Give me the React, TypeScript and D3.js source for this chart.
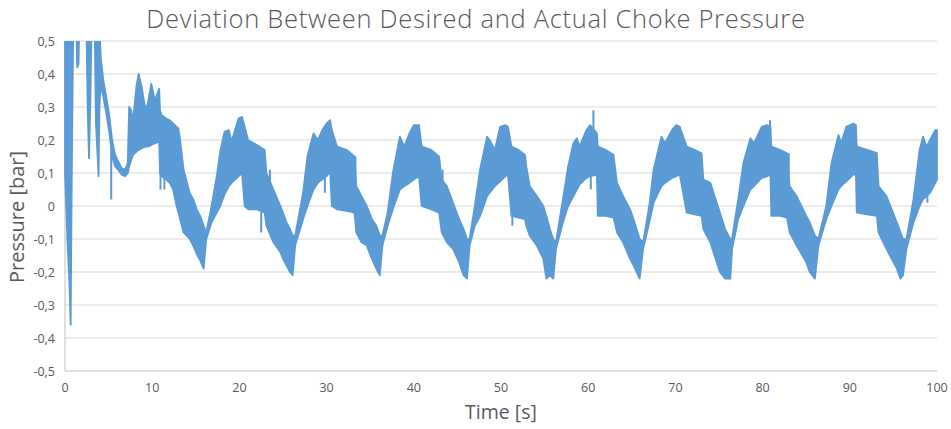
import React from 'react';
import * as d3 from 'd3';

// time [s], upper and lower edge of the oscillating pressure band [bar]
const timeS = [
  0, 0.3, 0.5, 0.65, 0.75, 0.85, 0.95, 1.3, 1.4, 1.55, 1.65, 2.45, 2.6, 2.75, 2.9, 3.05, 3.4, 3.55, 3.85, 3.95,
  4.1, 4.4, 4.8, 5.1, 5.4, 5.75, 6.1, 6.5, 6.9, 7.2, 7.35, 7.6, 7.8, 8.2, 8.45, 8.8, 9.2, 9.5, 9.9, 10.3,
  10.8, 10.9, 11.1, 11.6, 12.0, 12.4, 12.8, 13.0, 13.2, 13.6, 14.3, 14.7, 15.1, 15.5, 15.9, 16.2, 16.8, 17.4, 17.8, 18.3,
  18.8, 19.1, 19.5, 19.9, 20.3, 20.6, 21.0, 22.0, 22.9, 23.1, 23.9, 24.7, 25.0, 25.4, 25.8, 26.1, 26.4,
  27.3, 27.8, 28.5, 29.0, 29.5, 30.0, 30.4, 30.6, 31.2, 32.3, 33.2, 33.4, 34.0, 34.6, 35.2, 35.7, 36.1, 36.4,
  37.0, 37.6, 38.4, 38.9, 39.5, 40.0, 40.6, 40.9, 42.0, 42.9, 43.2, 43.8, 44.5, 45.2, 45.7, 46.1, 46.4,
  47.0, 47.6, 48.4, 48.7, 49.3, 49.9, 50.5, 50.8, 51.2, 52.0, 52.75, 52.9, 53.3, 54.1, 54.85, 55.2, 55.6, 56.0, 56.3,
  57.1, 57.7, 58.3, 58.7, 59.0, 59.8, 60.2, 61.0, 61.1, 62.0, 62.9, 63.3, 64.0, 64.8, 65.2, 65.9, 66.3,
  67.0, 67.5, 68.4, 68.8, 69.6, 70.1, 70.5, 71.3, 72.2, 73.0, 73.2, 74.0, 75.1, 75.7, 76.3, 76.5,
  77.2, 77.8, 78.6, 79.0, 79.9, 80.5, 80.9, 81.0, 82.0, 82.8, 83.1, 83.9, 85.0, 85.4, 86.0, 86.4,
  87.3, 87.9, 88.7, 89.0, 89.6, 90.4, 90.7, 90.8, 92.0, 93.1, 93.3, 94.2, 95.4, 95.8, 96.1, 96.5,
  97.3, 98.0, 98.4, 98.8, 99.2, 99.8, 100,
];
const upperBar = [
  0.6, 0.6, 0.6, 0.6, 0.6, 0.6, 0.6, 0.6, 0.6, 0.6, 0.6, 0.6, 0.6, 0.6, 0.6, 0.6, 0.6, 0.6, 0.6, 0.55,
  0.45, 0.38, 0.32, 0.27, 0.2, 0.155, 0.135, 0.115, 0.11, 0.13, 0.3, 0.29, 0.255, 0.365, 0.4, 0.36, 0.295, 0.31, 0.37, 0.32,
  0.355, 0.29, 0.275, 0.265, 0.26, 0.25, 0.24, 0.235, 0.2, 0.11, 0.04, 0.02, -0.01, -0.03, -0.06, -0.08, 0.0, 0.09, 0.165, 0.225,
  0.23, 0.195, 0.23, 0.265, 0.27, 0.24, 0.2, 0.185, 0.17, 0.1, 0.05, 0.0, -0.02, -0.05, -0.07, -0.09, -0.09,
  0.04, 0.15, 0.22, 0.2, 0.23, 0.25, 0.26, 0.23, 0.18, 0.17, 0.15, 0.06, 0.03, 0.0, -0.04, -0.06, -0.09, -0.09,
  -0.02, 0.1, 0.21, 0.18, 0.22, 0.245, 0.245, 0.18, 0.17, 0.15, 0.08, 0.06, 0.01, -0.04, -0.07, -0.1, -0.1,
  0.0, 0.11, 0.21, 0.2, 0.17, 0.24, 0.245, 0.24, 0.18, 0.17, 0.155, 0.12, 0.06, 0.03, 0.0, -0.03, -0.07, -0.1, -0.11,
  0.02, 0.12, 0.19, 0.205, 0.18, 0.23, 0.245, 0.22, 0.18, 0.17, 0.155, 0.07, 0.03, -0.01, -0.04, -0.1, -0.11,
  0.0, 0.11, 0.21, 0.19, 0.23, 0.245, 0.24, 0.18, 0.17, 0.16, 0.08, 0.07, -0.02, -0.07, -0.1, -0.1,
  0.02, 0.13, 0.205, 0.19, 0.24, 0.245, 0.24, 0.18, 0.17, 0.16, 0.06, 0.03, -0.03, -0.05, -0.09, -0.1,
  0.0, 0.13, 0.215, 0.19, 0.24, 0.25, 0.245, 0.18, 0.17, 0.16, 0.06, 0.03, -0.05, -0.08, -0.1, -0.1,
  0.02, 0.17, 0.21, 0.18, 0.2, 0.23, 0.23,
];
const lowerBar = [
  0.1, -0.12, -0.23, -0.36, 0.0, 0.3, 0.55, 0.55, 0.42, 0.43, 0.55, 0.55, 0.3, 0.145, 0.3, 0.55, 0.55, 0.25, 0.09, 0.3,
  0.37, 0.33, 0.27, 0.22, 0.15, 0.12, 0.11, 0.095, 0.09, 0.1, 0.12, 0.14, 0.155, 0.165, 0.17, 0.175, 0.18, 0.18, 0.185, 0.19,
  0.195, 0.1, 0.09, 0.08, 0.07, 0.05, 0.0, -0.02, -0.04, -0.08, -0.1, -0.12, -0.145, -0.165, -0.19, -0.1, -0.05, -0.02, 0.0, 0.035,
  0.06, 0.07, 0.08, 0.09, 0.1, 0.0, -0.01, -0.01, -0.02, -0.06, -0.11, -0.14, -0.16, -0.18, -0.2, -0.21, -0.12,
  -0.04, 0.0, 0.05, 0.07, 0.08, 0.09, 0.105, 0.0, -0.01, -0.015, -0.02, -0.08, -0.11, -0.12, -0.16, -0.19, -0.21, -0.12,
  -0.06, -0.01, 0.05, 0.06, 0.07, 0.08, 0.09, 0.0, -0.01, -0.02, -0.08, -0.11, -0.13, -0.17, -0.21, -0.22, -0.12,
  -0.06, -0.03, 0.03, 0.04, 0.06, 0.075, 0.09, 0.095, -0.03, -0.035, -0.04, -0.06, -0.09, -0.12, -0.16, -0.22, -0.21, -0.22, -0.13,
  -0.05, 0.0, 0.03, 0.05, 0.065, 0.085, 0.09, 0.095, -0.03, -0.03, -0.035, -0.08, -0.11, -0.16, -0.18, -0.22, -0.13,
  -0.05, 0.01, 0.06, 0.07, 0.085, 0.09, 0.095, -0.02, -0.025, -0.03, -0.07, -0.11, -0.2, -0.22, -0.22, -0.13,
  -0.04, 0.0, 0.05, 0.06, 0.085, 0.09, 0.095, -0.03, -0.03, -0.035, -0.08, -0.12, -0.17, -0.2, -0.22, -0.12,
  -0.04, 0.0, 0.05, 0.06, 0.075, 0.095, 0.095, -0.02, -0.025, -0.03, -0.08, -0.13, -0.19, -0.22, -0.21, -0.13,
  -0.05, 0.0, 0.02, 0.03, 0.04, 0.07, 0.08,
];

// single samples that stick out of the band
const spikeT = [5.3, 10.95, 11.4, 22.5, 23.5, 29.8, 33.3, 43.3, 51.3, 60.3, 60.6, 80.85, 83.0, 98.9];
const spikeLo = [0.02, 0.05, 0.05, -0.08, 0.0, 0.04, 0.0, -0.05, -0.06, 0.05, 0.1, 0.1, -0.03, 0.01];
const spikeHi = [0.2, 0.2, 0.2, 0.0, 0.11, 0.1, 0.15, 0.11, 0.1, 0.1, 0.29, 0.26, 0.16, 0.1];

const xTicks = [0, 10, 20, 30, 40, 50, 60, 70, 80, 90, 100];
const yTicks = [-0.5, -0.4, -0.3, -0.2, -0.1, 0, 0.1, 0.2, 0.3, 0.4, 0.5];

const W = 951;
const H = 429;
const blue = '#5B9BD5';
const textCol = '#595959';
const font = 'Open Sans, sans-serif';

const fmt = (v: number) => (Math.abs(v) < 1e-9 ? '0' : d3.format('.1f')(v).replace('.', ',').replace('−', '-'));

export default function App() {
  const x = d3.scaleLinear().domain([0, 100]).range([65, 937]);
  const y = d3.scaleLinear().domain([-0.5, 0.5]).range([371, 41]);

  const band = timeS.map((t, i) => ({ t, hi: upperBar[i], lo: lowerBar[i] }));
  const area = d3
    .area<{ t: number; hi: number; lo: number }>()
    .x((d) => x(d.t))
    .y0((d) => y(d.lo))
    .y1((d) => y(d.hi));

  return (
    <svg width={W} height={H} style={{ position: 'absolute', left: 0, top: 0, background: '#fff' }}>
      <defs>
        <clipPath id="plot">
          <rect x={x(0) - 2} y={y(0.5)} width={x(100) - x(0) + 4} height={y(-0.5) - y(0.5)} />
        </clipPath>
      </defs>
      <text
        x={476}
        y={28}
        textAnchor="middle"
        fontFamily={font}
        fontSize={25.5}
        fontWeight={300}
        letterSpacing={0.7}
        fill={textCol}
      >
        Deviation Between Desired and Actual Choke Pressure
      </text>
      {yTicks.map((v) => (
        <g key={v}>
          {v > -0.5 && (
            <line x1={x(0)} x2={x(100)} y1={y(v)} y2={y(v)} stroke="#D9D9D9" strokeWidth={1} />
          )}
          <text x={55} y={y(v) + 4.5} textAnchor="end" fontFamily={font} fontSize={12.5} fill={textCol}>
            {fmt(v)}
          </text>
        </g>
      ))}
      <line x1={x(0)} x2={x(0)} y1={y(0.5)} y2={y(-0.5)} stroke="#BFBFBF" strokeWidth={1} />
      <line x1={x(0)} x2={x(100)} y1={y(-0.5)} y2={y(-0.5)} stroke="#BFBFBF" strokeWidth={1} />
      {xTicks.map((v) => (
        <text key={v} x={x(v)} y={392} textAnchor="middle" fontFamily={font} fontSize={12.5} fill={textCol}>
          {v}
        </text>
      ))}
      <g clipPath="url(#plot)">
        <path d={area(band) || ''} fill={blue} stroke={blue} strokeWidth={1.8} strokeLinejoin="round" />
        {spikeT.map((t, i) => (
          <line key={i} x1={x(t)} x2={x(t)} y1={y(spikeLo[i])} y2={y(spikeHi[i])} stroke={blue} strokeWidth={2} />
        ))}
      </g>
      <text x={501} y={419} textAnchor="middle" fontFamily={font} fontSize={19.5} fill={textCol}>
        Time [s]
      </text>
      <text
        transform={`translate(24, ${(y(0.5) + y(-0.5)) / 2 + 11}) rotate(-90)`}
        textAnchor="middle"
        fontFamily={font}
        fontSize={20}
        fill={textCol}
      >
        Pressure [bar]
      </text>
    </svg>
  );
}
